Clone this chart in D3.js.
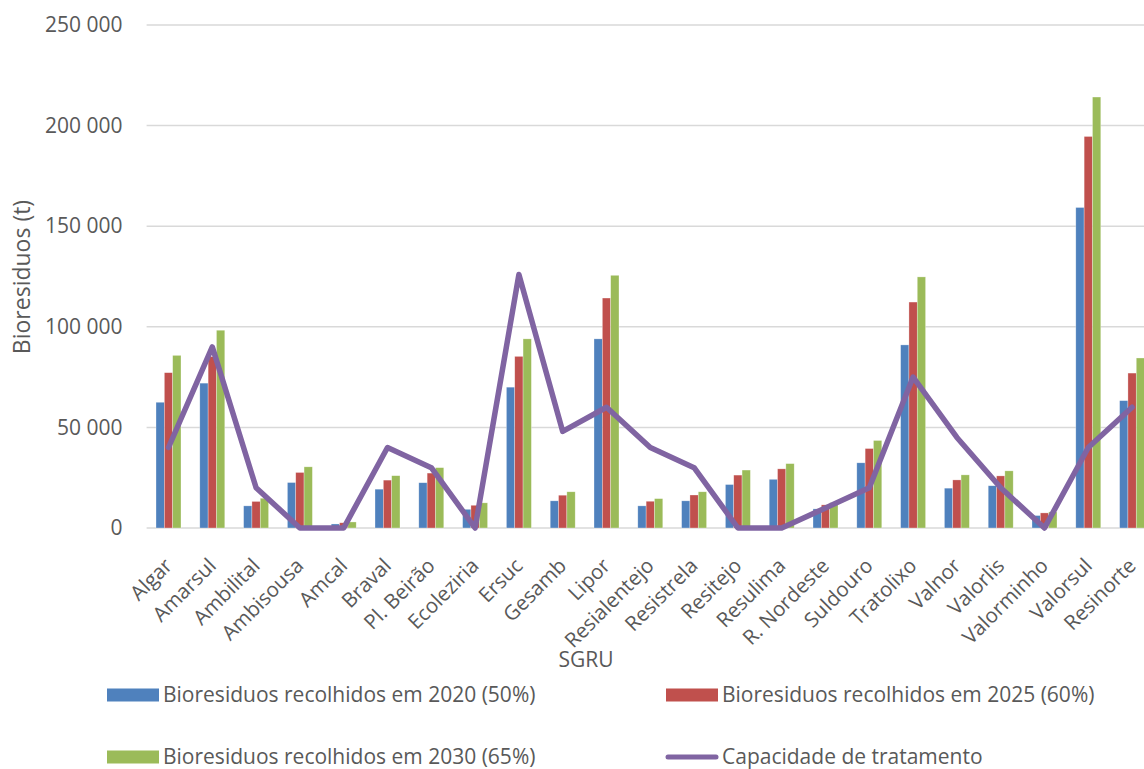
<!DOCTYPE html>
<html>
<head>
<meta charset="utf-8">
<script src="https://cdn.jsdelivr.net/npm/d3@7"></script>
<style>
  html, body { margin: 0; padding: 0; background: #ffffff; }
  svg { display: block; font-family: "Open Sans", sans-serif; }
</style>
</head>
<body>
<svg id="chart" width="1144" height="769"></svg>
<script>
// Sistemas de gestão de resíduos urbanos (SGRU)
const categories = ["Algar", "Amarsul", "Ambilital", "Ambisousa", "Amcal", "Braval", "Pl. Beirão",
  "Ecoleziria", "Ersuc", "Gesamb", "Lipor", "Resialentejo", "Resistrela", "Resitejo", "Resulima",
  "R. Nordeste", "Suldouro", "Tratolixo", "Valnor", "Valorlis", "Valorminho", "Valorsul", "Resinorte"];

// Bioresíduos recolhidos (t)
const recolhidos2020 = [62500, 72000, 11000, 22600, 2000, 19300, 22500, 9300, 70000, 13500, 94000,
  11000, 13500, 21600, 24200, 9500, 32400, 91000, 19800, 21000, 6200, 159300, 63300];
const recolhidos2025 = [77200, 85200, 13200, 27600, 2600, 23800, 27300, 11300, 85300, 16300, 114300,
  13300, 16400, 26300, 29400, 11500, 39500, 112300, 23900, 25900, 7500, 194600, 77000];
const recolhidos2030 = [85800, 98300, 14800, 30400, 3000, 26000, 30000, 12500, 94000, 18000, 125600,
  14600, 18000, 28800, 32000, 12600, 43500, 124800, 26400, 28400, 8000, 214200, 84500];

// Capacidade de tratamento (t)
const capacidade = [40000, 90000, 20000, 0, 0, 40000, 30000, 0, 126000, 48000, 60000,
  40000, 30000, 0, 0, 10000, 20000, 75000, 45000, 20000, 0, 40000, 60000];

const yTicks = [0, 50000, 100000, 150000, 200000, 250000];

const seriesNames = [
  "Bioresiduos recolhidos em 2020 (50%)",
  "Bioresiduos recolhidos em 2025 (60%)",
  "Bioresiduos recolhidos em 2030 (65%)"
];
const lineName = "Capacidade de tratamento";
const barColors = ["#4F81BD", "#C0504D", "#9BBB59"];
const lineColor = "#8064A2";

const barSeries = [recolhidos2020, recolhidos2025, recolhidos2030];

const svg = d3.select("#chart");
svg.append("rect").attr("width", 1144).attr("height", 769).attr("fill", "#ffffff");

const plot = { left: 146.6, right: 1154, top: 25, bottom: 528 };

const x = d3.scaleBand().domain(categories).range([plot.left, plot.right]).paddingInner(0).paddingOuter(0);
const xSub = d3.scaleBand().domain(d3.range(barSeries.length)).range([0, x.bandwidth()])
  .paddingInner(0).paddingOuter(1.13);
const y = d3.scaleLinear().domain([0, 250000]).range([plot.bottom, plot.top]);

// horizontal gridlines
svg.append("g").selectAll("line").data(yTicks).join("line")
  .attr("x1", plot.left).attr("x2", plot.right)
  .attr("y1", d => y(d)).attr("y2", d => y(d))
  .attr("stroke", "#D9D9D9").attr("stroke-width", 1.5);

// y axis labels
const fmt = d => d3.format(",")(d).replace(/,/g, " ");
const yAxis = svg.append("g").attr("transform", `translate(${plot.left - 16},0)`)
  .call(d3.axisLeft(y).tickValues(yTicks).tickFormat(fmt).tickSize(0).tickPadding(8));
yAxis.select(".domain").remove();
yAxis.selectAll("text").attr("font-family", "Open Sans").attr("font-size", 21).attr("fill", "#595959");

// grouped bars
const groups = svg.append("g").selectAll("g").data(barSeries).join("g")
  .attr("fill", (d, i) => barColors[i]);
groups.each(function (vals, si) {
  d3.select(this).selectAll("rect").data(vals).join("rect")
    .attr("x", (v, ci) => x(categories[ci]) + xSub(si))
    .attr("width", xSub.bandwidth())
    .attr("y", v => y(v))
    .attr("height", v => y(0) - y(v))
    .attr("stroke", "#ffffff").attr("stroke-opacity", 0.5).attr("stroke-width", 0.6);
});

// treatment capacity line
const line = d3.line()
  .x((v, i) => x(categories[i]) + x.bandwidth() / 2)
  .y(v => y(v));
svg.append("path").datum(capacidade)
  .attr("d", line)
  .attr("fill", "none").attr("stroke", lineColor).attr("stroke-width", 5.5)
  .attr("stroke-linejoin", "round").attr("stroke-linecap", "round");

// category labels
svg.append("g").selectAll("text").data(categories).join("text")
  .attr("transform", d => `translate(${x(d) + x.bandwidth() / 2 + 5},${plot.bottom + 39}) rotate(-45)`)
  .attr("text-anchor", "end")
  .attr("font-size", 20.5).attr("fill", "#595959")
  .text(d => d);

// axis titles
svg.append("text")
  .attr("transform", `translate(30,277) rotate(-90)`)
  .attr("text-anchor", "middle").attr("font-size", 23).attr("fill", "#595959")
  .text("Bioresiduos (t)");
svg.append("text")
  .attr("x", 586).attr("y", 667)
  .attr("text-anchor", "middle").attr("font-size", 21).attr("fill", "#595959")
  .text("SGRU");

// legend
const legendItems = [
  { name: seriesNames[0], color: barColors[0], type: "bar", x: 107, y: 695 },
  { name: seriesNames[1], color: barColors[1], type: "bar", x: 666, y: 695 },
  { name: seriesNames[2], color: barColors[2], type: "bar", x: 107, y: 757 },
  { name: lineName, color: lineColor, type: "line", x: 666, y: 757 }
];
const lg = svg.append("g").selectAll("g").data(legendItems).join("g")
  .attr("transform", d => `translate(${d.x},${d.y})`);
lg.filter(d => d.type === "bar").append("rect")
  .attr("x", 0).attr("y", -6.5).attr("width", 52).attr("height", 13)
  .attr("fill", d => d.color);
lg.filter(d => d.type === "line").append("line")
  .attr("x1", 2).attr("x2", 50).attr("y1", 0).attr("y2", 0)
  .attr("stroke", d => d.color).attr("stroke-width", 5).attr("stroke-linecap", "round");
lg.append("text")
  .attr("x", 56).attr("y", 0).attr("dy", "0.35em")
  .attr("font-size", 21).attr("fill", "#595959")
  .text(d => d.name);
</script>
</body>
</html>
